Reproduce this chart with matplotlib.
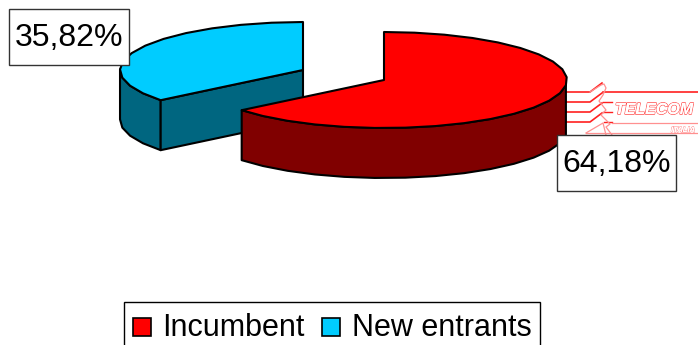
"""
Quote di mercato: torta 3D con logo in filigrana
"""
import matplotlib
matplotlib.use('Agg')
import matplotlib.pyplot as plt
import matplotlib.patches as mpatches
import matplotlib.patheffects as pe
import numpy as np

plt.rcParams['font.family'] = ['Liberation Sans', 'DejaVu Sans']

categories = ['Incumbent', 'New entrants']
shares = [64.18, 35.82]
share_labels = ['64,18%', '35,82%']

top_colors = ['#FF0000', '#00CCFF']
side_colors = ['#800000', '#006680']
centers = [(384, 80), (303, 70)]
RX, RY, DEPTH = 183, 48, 50

fig = plt.figure(figsize=(6.98, 3.45), dpi=100)
ax = fig.add_axes([0, 0, 1, 1])
ax.set_xlim(0, 698)
ax.set_ylim(345, 0)
ax.axis('off')

# ========== logo in filigrana ==========
logo_red = '#FF2020'
logo_pink = '#FF9090'
for y in [92, 102, 112, 122]:
    ax.plot([566, 590, 602], [y, y, y - 9], color=logo_red, lw=1.2, zorder=1)
ax.plot([603, 698], [92, 92], color=logo_red, lw=1.2, zorder=1)
ax.plot([603, 612], [102, 102], color=logo_red, lw=1.0, zorder=1)
ax.plot([603, 612], [112, 112], color=logo_red, lw=1.0, zorder=1)
ax.plot([604, 612], [122, 122], color=logo_red, lw=1.0, zorder=1)
ax.plot([612, 698], [123, 123], color=logo_pink, lw=0.9, zorder=1)
ax.plot([586, 698], [133, 133], color=logo_pink, lw=0.9, zorder=1)
# fascia a zig-zag del marchio
ax.plot([590, 601, 604, 606, 603, 599, 606, 601, 610, 606, 612],
        [92, 85, 84, 88, 95, 101, 110, 115, 124, 127, 135],
        color=logo_pink, lw=0.9, zorder=1)
ax.plot([586, 603, 606], [133, 123, 135], color=logo_pink, lw=0.9, zorder=1)
ax.text(615, 114, 'TELECOM', fontsize=11.5, fontweight='bold', fontstyle='italic',
        color='white', va='baseline', ha='left', zorder=2,
        path_effects=[pe.withStroke(linewidth=1.0, foreground='#FF4040'), pe.Normal()])
ax.text(671, 132, 'ITALIA', fontsize=5.5, fontweight='bold', fontstyle='italic',
        color='white', va='baseline', ha='left', zorder=2,
        path_effects=[pe.withStroke(linewidth=0.6, foreground='#FF6060'), pe.Normal()])


def ellipse(cx, cy, a0, a1):
    # contorno a segmenti, angoli in gradi
    n = max(int(abs(a1 - a0) / 9), 4)
    t = np.radians(np.linspace(a0, a1, n))
    return np.c_[cx + RX * np.cos(t), cy - RY * np.sin(t)]


def draw_slice(cx, cy, a0, a1, top, side, z):
    ec = dict(edgecolor='black', linewidth=1.5, joinstyle='round')
    rim = ellipse(cx, cy, a0, a1)
    # parete esterna: solo la metà inferiore si vede
    visible = rim[rim[:, 1] >= cy - 1]
    wall = np.r_[visible, (visible + [0, DEPTH])[::-1]]
    ax.add_patch(mpatches.Polygon(wall, facecolor=side, zorder=z, **ec))
    return rim, ec


start = 90

# spicchio blu: da 90 gradi verso sinistra
cx, cy = centers[1]
rim, ec = draw_slice(cx, cy, start, start + shares[1] / 100 * 360, top_colors[1], side_colors[1], 3)
ex, ey = rim[-1]
ax.add_patch(mpatches.Polygon([(cx, cy), (ex, ey), (ex, ey + DEPTH), (cx, cy + DEPTH)],
                              facecolor=side_colors[1], zorder=3.5, **ec))
ax.add_patch(mpatches.Polygon(np.r_[[(cx, cy)], rim], facecolor=top_colors[1], zorder=4, **ec))

# spicchio rosso: da 90 gradi in senso orario
cx, cy = centers[0]
rim, ec = draw_slice(cx, cy, start - shares[0] / 100 * 360, start, top_colors[0], side_colors[0], 5)
ax.add_patch(mpatches.Polygon(np.r_[[(cx, cy)], rim], facecolor=top_colors[0], zorder=6, **ec))

# etichette percentuali
boxes = [(557, 135, 119, 56), (9, 9, 120, 56)]
for (bx, by, bw, bh), lab in zip(boxes, share_labels):
    ax.add_patch(mpatches.Rectangle((bx, by), bw, bh, facecolor='white',
                                    edgecolor='#333333', lw=1.0, zorder=8))
    ax.text(bx + bw / 2, by + bh / 2 + 1, lab, fontsize=23, ha='center', va='center',
            color='black', zorder=9)

# legenda
ax.add_patch(mpatches.Rectangle((123.5, 301.5), 416, 60, facecolor='white',
                                edgecolor='black', lw=1.0, zorder=8))
for sx, tx, c, name in zip([133, 322], [162, 352], top_colors, categories):
    ax.add_patch(mpatches.Rectangle((sx, 318), 18, 18, facecolor=c,
                                    edgecolor='black', lw=1.2, zorder=9))
    ax.text(tx, 336, name, fontsize=22, ha='left', va='baseline', color='black', zorder=9)

plt.savefig('out.png', dpi=100, facecolor='white')
